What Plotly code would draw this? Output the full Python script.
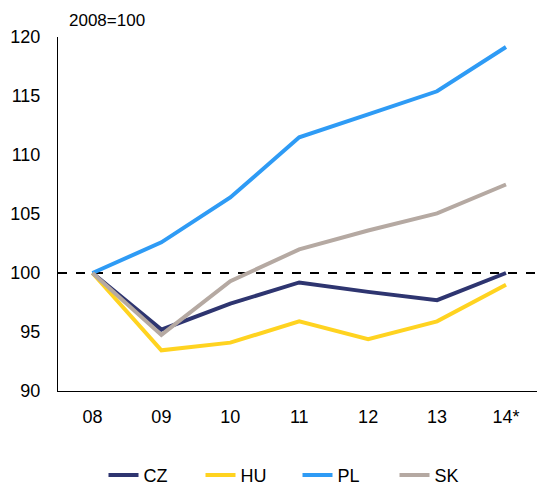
import plotly.graph_objects as go

years = ["08", "09", "10", "11", "12", "13", "14*"]
cz = [100, 95.2, 97.4, 99.2, 98.4, 97.7, 100.0]
hu = [100, 93.45, 94.1, 95.9, 94.4, 95.9, 99.0]
pl = [100, 102.6, 106.4, 111.5, 113.45, 115.4, 119.15]
sk = [100, 94.75, 99.3, 102.0, 103.6, 105.05, 107.5]

series = [("CZ", cz, "#2E3570"), ("HU", hu, "#FFD320"),
          ("PL", pl, "#2E9BF5"), ("SK", sk, "#B5A9A2")]

fig = go.Figure()
for name, vals, col in series:
    fig.add_trace(go.Scatter(x=years, y=vals, name=name, mode="lines",
                             line=dict(color=col, width=4)))

fig.add_shape(type="line", xref="paper", yref="y", x0=0, x1=1, y0=100, y1=100,
              line=dict(color="black", width=2, dash="dash"), layer="below")

font = "Liberation Sans, Arial, sans-serif"
fig.update_layout(
    width=537, height=485,
    margin=dict(l=58, r=0, t=37, b=94),
    plot_bgcolor="white", paper_bgcolor="white",
    font=dict(family=font, size=18, color="black"),
    showlegend=True,
    legend=dict(orientation="h", xanchor="center", x=0.5, yref="container",
                y=0.02, yanchor="middle", font=dict(size=18),
                itemwidth=30, entrywidth=52, entrywidthmode="pixels",
                tracegroupgap=0),
    xaxis=dict(type="category", range=[-0.5, 6.45], showline=True,
               linecolor="black", linewidth=1, showgrid=False, zeroline=False,
               ticks="outside", ticklen=9, tickcolor="rgba(0,0,0,0)"),
    yaxis=dict(range=[90, 120], dtick=5, showline=True, linecolor="black",
               linewidth=1, showgrid=False, zeroline=False,
               ticks="outside", ticklen=13, tickcolor="rgba(0,0,0,0)"),
    annotations=[dict(text="2008=100", xref="paper", yref="paper",
                      x=9/479, y=1 + 16/354, xanchor="left", yanchor="middle",
                      showarrow=False, font=dict(size=17))],
)

fig.write_html("out.html", config={"displayModeBar": False},
               post_script="document.body.style.margin='0';")
